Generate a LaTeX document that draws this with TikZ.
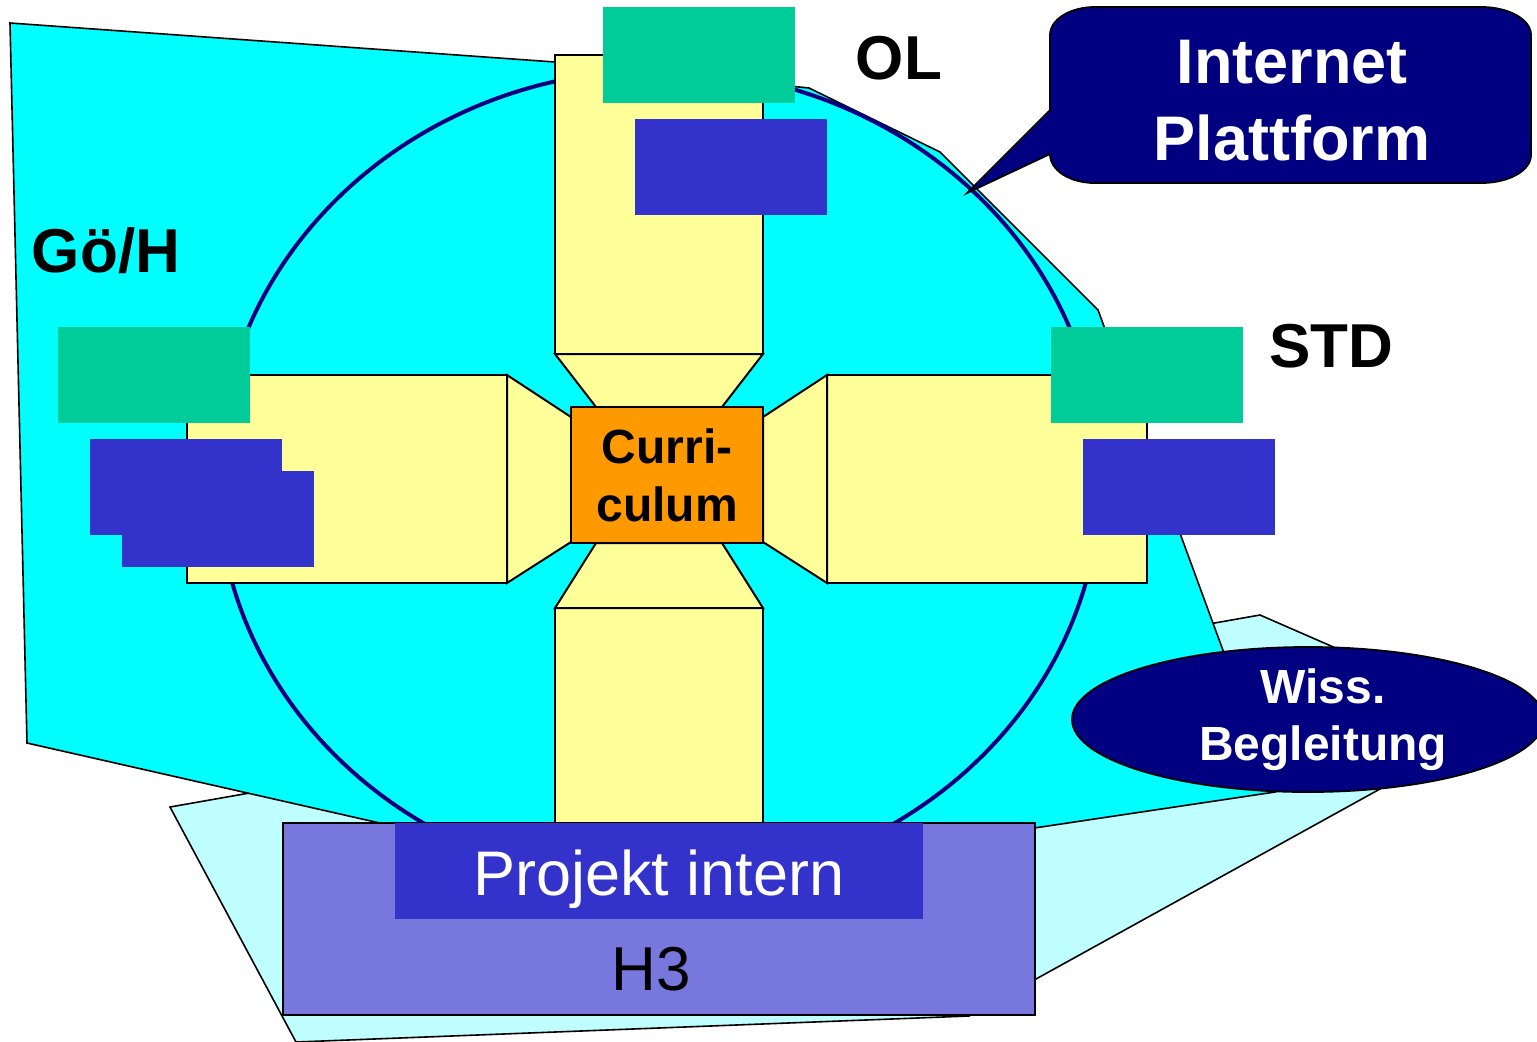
\documentclass[tikz,border=0pt]{standalone}
\usepackage{fontspec}
\setmainfont{Liberation Sans}
\usetikzlibrary{shapes.geometric}
\definecolor{cyanA}{HTML}{00FFFF}
\definecolor{cyanL}{HTML}{C0FFFF}
\definecolor{navy}{HTML}{000080}
\definecolor{yel}{HTML}{FFFF99}
\definecolor{orng}{HTML}{FF9900}
\definecolor{grn}{HTML}{00CC99}
\definecolor{blu}{HTML}{3333CC}
\definecolor{lav}{HTML}{7777DD}
\begin{document}
\begin{tikzpicture}[x=0.5pt,y=-0.5pt,
  poly/.style={draw=black, line width=0.8pt, line join=miter},
  ybox/.style={draw=black, fill=yel, line width=1pt},
  gbox/.style={fill=grn},
  bbox/.style={fill=blu},
  biglabel/.style={font=\fontsize{31}{37}\selectfont\bfseries, inner sep=0pt, anchor=base},
  whitebold/.style={text=white, align=center, inner sep=0pt},
]
\useasboundingbox (0,0) rectangle (1537,1041);
\begin{scope}
\clip (0,0) rectangle (1537,1041);
% light cyan background polygon
\draw[poly, fill=cyanL] (170,807) -- (1260,615) -- (1503,721) -- (969,1016) -- (296,1042) -- cycle;
% cyan polygon
\draw[poly, fill=cyanA] (10,23) -- (555,62) -- (809,88) -- (940,152) -- (1098,310) -- (1275,792) -- (653,885) -- (27,743) -- cycle;
% circle
\draw[navy, line width=2pt, fill=cyanA] (659,478) ellipse [x radius=220.75pt, y radius=204pt];
% yellow bars and trapezoids
\draw[ybox] (555,55) rectangle (763,354);
\draw[ybox] (555,354) -- (763,354) -- (722,407) -- (596,407) -- cycle;
\draw[ybox] (555,608) rectangle (763,830);
\draw[ybox] (596,543) -- (722,543) -- (763,608) -- (555,608) -- cycle;
\draw[ybox] (187,375) rectangle (507,583);
\draw[ybox] (507,375) -- (571,417) -- (571,542) -- (507,583) -- cycle;
\draw[ybox] (827,375) rectangle (1147,583);
\draw[ybox] (763,417) -- (827,375) -- (827,583) -- (763,542) -- cycle;
% curriculum
\node[draw=black, fill=orng, line width=1pt, minimum width=96pt, minimum height=68pt,
      inner sep=0pt, align=center, font=\fontsize{24}{29}\selectfont\bfseries] (curr) at (667,475) {Curri-\\culum};
% green and blue boxes
\fill[gbox] (603,7) rectangle (795,103);
\fill[bbox] (635,119) rectangle (827,215);
\fill[gbox] (58,327) rectangle (250,423);
\fill[bbox] (90,439) rectangle (282,535);
\fill[bbox] (122,471) rectangle (314,567);
\fill[gbox] (1051,327) rectangle (1243,423);
\fill[bbox] (1083,439) rectangle (1275,535);
% labels
\node[biglabel] (ol) at (899,79) {OL};
\node[biglabel] (goeh) at (106,272) {Gö/H};
\node[biglabel] (std) at (1331,367) {STD};
% callout
\draw[fill=navy, line width=0.9pt, line join=miter] (1050,110) -- (967,193) -- (1050,154)
  .. controls (1050,170.5) and (1070,183) .. (1095,183)
  -- (1481,183) .. controls (1509,183) and (1531,170.5) .. (1531,155)
  -- (1531,35) .. controls (1531,19.5) and (1509,7) .. (1481,7)
  -- (1095,7) .. controls (1070,7) and (1050,19.5) .. (1050,35)
  -- cycle;
\node[whitebold, font=\fontsize{31.5}{38.5}\selectfont\bfseries] (inet) at (1292,101) {Internet\\Plattform};
% Wiss. Begleitung ellipse
\node[ellipse, draw=black, fill=navy, line width=0.9pt, minimum width=236pt, minimum height=72.5pt, inner sep=0pt] (wiss) at (1308,719.5) {};
\node[whitebold, font=\fontsize{24}{28.5}\selectfont\bfseries] (wisst) at (1323,719.5) {Wiss.\\Begleitung};
% H3 box
\node[draw=black, fill=lav, line width=1pt, minimum width=376pt, minimum height=96pt, inner sep=0pt] (h3box) at (659,919) {};
\node[fill=blu, minimum width=264pt, minimum height=48pt, inner sep=0pt] (proj) at (659,871) {};
\node[text=white, font=\fontsize{31.5}{38}\selectfont, inner sep=0pt, anchor=base] (projt) at (659,895) {Projekt intern};
\node[font=\fontsize{31}{37}\selectfont, inner sep=0pt, anchor=base] (h3t) at (651,990) {H3};
\end{scope}
\end{tikzpicture}
\end{document}
